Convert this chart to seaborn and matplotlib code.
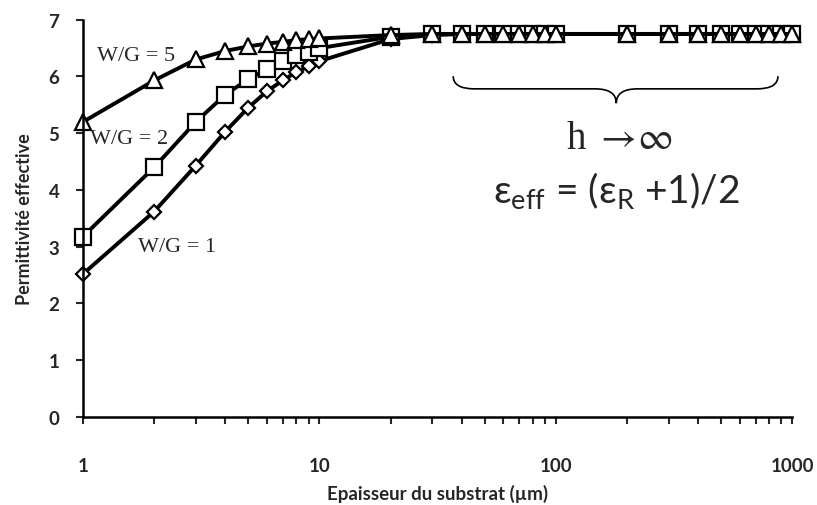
import pandas as pd
import numpy as np
import matplotlib
matplotlib.use("Agg")
import matplotlib.pyplot as plt
import seaborn as sns
from matplotlib.path import Path
from matplotlib.patches import PathPatch

# Substrate thickness (um)
thickness = [1, 2, 3, 4, 5, 6, 7, 8, 9, 10,
             20, 30, 40, 50, 60, 70, 80, 90, 100,
             200, 300, 400, 500, 600, 700, 800, 900, 1000]

# Effective permittivity for each W/G ratio
eps_wg1 = [2.52, 3.62, 4.43, 5.03, 5.45, 5.74, 5.93, 6.08, 6.18, 6.27,
           6.66, 6.73, 6.75, 6.75, 6.75, 6.75, 6.75, 6.75, 6.75,
           6.75, 6.75, 6.75, 6.75, 6.75, 6.75, 6.75, 6.75, 6.75]
eps_wg2 = [3.18, 4.40, 5.20, 5.68, 5.95, 6.13, 6.28, 6.37, 6.44, 6.50,
           6.70, 6.74, 6.75, 6.75, 6.75, 6.75, 6.75, 6.75, 6.75,
           6.75, 6.75, 6.75, 6.75, 6.75, 6.75, 6.75, 6.75, 6.75]
eps_wg5 = [5.20, 5.93, 6.30, 6.45, 6.53, 6.58, 6.61, 6.64, 6.66, 6.67,
           6.73, 6.75, 6.75, 6.75, 6.75, 6.75, 6.75, 6.75, 6.75,
           6.75, 6.75, 6.75, 6.75, 6.75, 6.75, 6.75, 6.75, 6.75]

series_labels = ["W/G = 1", "W/G = 2", "W/G = 5"]

df = pd.DataFrame({
    "h": thickness * 3,
    "eps": eps_wg1 + eps_wg2 + eps_wg5,
    "serie": [series_labels[0]] * len(thickness)
             + [series_labels[1]] * len(thickness)
             + [series_labels[2]] * len(thickness),
})

sns.set_style("ticks")
plt.rcParams["font.family"] = ["Lato", "DejaVu Sans"]

fig = plt.figure(figsize=(8.17, 5.06), dpi=100)
ax = fig.add_axes([0.1016, 0.174, 0.868, 0.785])

marker_styles = {
    "W/G = 1": ("D", 7.5),
    "W/G = 2": ("s", 12),
    "W/G = 5": ("^", 11.5),
}

for lab in series_labels:
    m, ms = marker_styles[lab]
    sns.lineplot(data=df[df["serie"] == lab], x="h", y="eps", ax=ax,
                 color="black", lw=2.8, marker=m, markersize=ms,
                 markerfacecolor="white", markeredgecolor="black",
                 markeredgewidth=1.6, errorbar=None, clip_on=False)

ax.set_xscale("log")
ax.set_xlim(1, 1000)
ax.set_ylim(0, 7)
ax.set_yticks(range(0, 8))
ax.set_xticks([1, 10, 100, 1000])
ax.set_xticklabels(["1", "10", "100", "1000"])
ax.xaxis.set_minor_formatter(matplotlib.ticker.NullFormatter())

for s in ["top", "right"]:
    ax.spines[s].set_visible(False)
for s in ["left", "bottom"]:
    ax.spines[s].set_linewidth(1.8)
    ax.spines[s].set_color("black")

ax.tick_params(axis="y", which="major", length=5, width=1.5, direction="out",
               pad=12, labelsize=13.5)
ax.tick_params(axis="x", which="both", length=5, width=1.5, direction="out",
               pad=24, labelsize=13.5)
for t in ax.get_xticklabels() + ax.get_yticklabels():
    t.set_fontweight("bold")

ax.set_xlabel("Epaisseur du substrat (µm)", fontsize=13.5, fontweight="bold",
              labelpad=7)
ax.set_ylabel("Permittivité effective", fontsize=13, fontweight="bold",
              labelpad=11)

# Series annotations
serif = ["Liberation Serif", "DejaVu Serif"]
ax.text(0.075, 0.91, "W/G = 5", transform=ax.transAxes, family=serif,
        fontsize=16, ha="center", va="center")
ax.text(0.065, 0.70, "W/G = 2", transform=ax.transAxes, family=serif,
        fontsize=16, ha="center", va="center")
ax.text(0.133, 0.43, "W/G = 1", transform=ax.transAxes, family=serif,
        fontsize=16, ha="center", va="center")

# Curly brace over the plateau
x0, x1, xm = 0.522, 0.980, 0.752
yt, ym, yb = 0.858, 0.826, 0.790
d = 0.03
verts = [(x0, yt), (x0, ym), (x0 + d, ym),
         (xm - d, ym), (xm, ym), (xm, yb),
         (xm, ym), (xm + d, ym),
         (x1 - d, ym), (x1, ym), (x1, yt)]
codes = [Path.MOVETO, Path.CURVE3, Path.CURVE3,
         Path.LINETO, Path.CURVE3, Path.CURVE3,
         Path.CURVE3, Path.CURVE3,
         Path.LINETO, Path.CURVE3, Path.CURVE3]
ax.add_patch(PathPatch(Path(verts, codes), transform=ax.transAxes,
                       fill=False, lw=1.2, color="black", clip_on=False))

ax.text(0.757, 0.70, r"h $\rightarrow\!\infty$", transform=ax.transAxes,
        family=serif, math_fontfamily="stix", fontsize=28,
        ha="center", va="center")
ax.text(0.752, 0.57,
        r"ε$_{\mathregular{eff}}$ = (ε$_{\mathregular{R}}$ +1)/2",
        transform=ax.transAxes, fontsize=28, ha="center", va="center")

fig.savefig("out.png", dpi=100)
